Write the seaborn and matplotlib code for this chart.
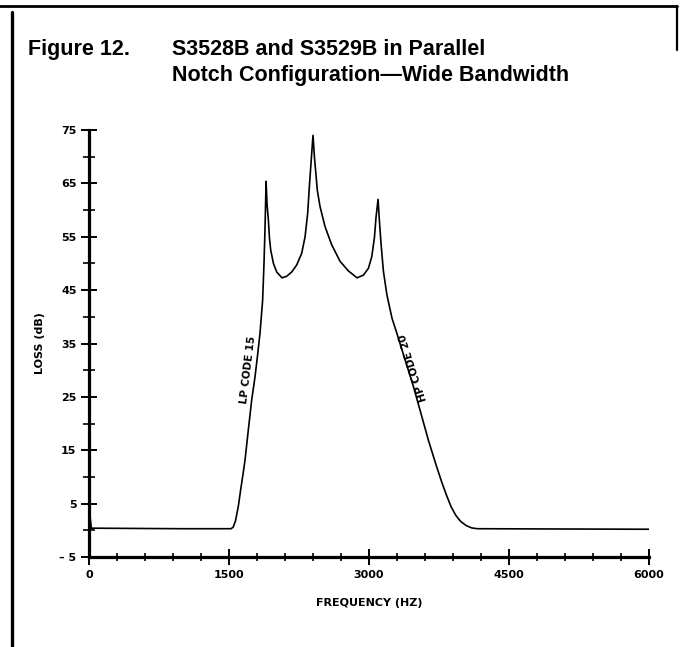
import matplotlib
matplotlib.use("Agg")
import matplotlib.pyplot as plt
from matplotlib.lines import Line2D
from matplotlib.ticker import MultipleLocator, FixedLocator
from matplotlib import font_manager
import seaborn as sns
import pandas as pd

# ---- data ----
freq_hz = [0, 25, 500, 1000, 1500, 1522, 1545, 1570, 1600, 1625, 1650, 1672,
           1707, 1743, 1779, 1804, 1832, 1860, 1875, 1885, 1893, 1897,
           1908, 1922, 1933, 1947, 1976, 2011, 2068, 2118, 2172, 2225, 2279,
           2315, 2343, 2361, 2386, 2400, 2415, 2430, 2447, 2476, 2529, 2600,
           2690, 2779, 2872, 2940, 2994, 3030, 3058, 3075, 3097, 3111, 3129,
           3154, 3190, 3218, 3247, 3297, 3368, 3475, 3547, 3636, 3725, 3780,
           3832, 3880, 3930, 3980, 4040, 4100, 4160, 5000, 6000]
loss_db = [4.5, 0.4, 0.35, 0.3, 0.3, 0.3, 0.6, 1.8, 4.5, 7.6, 10.5, 13.2,
           18.8, 24.4, 28.8, 32.5, 36.9, 43.0, 50.0, 56.0, 62.0, 65.4,
           61.0, 58.1, 54.9, 52.5, 50.0, 48.4, 47.3, 47.6, 48.4, 49.7, 51.9,
           55.0, 59.4, 64.4, 70.6, 74.0, 70.0, 67.0, 63.6, 60.6, 56.9, 53.5,
           50.4, 48.6, 47.3, 47.8, 49.1, 51.3, 54.8, 58.6, 62.0, 58.1, 53.7,
           48.6, 44.3, 42.0, 39.7, 37.0, 33.0, 27.0, 22.5, 16.9, 11.9, 9.0,
           6.5, 4.4, 2.8, 1.7, 0.9, 0.45, 0.3, 0.25, 0.2]

x_major_ticks = [0, 1500, 3000, 4500, 6000]
x_tick_labels = ["0", "1500", "3000", "4500", "6000"]
y_major_ticks = [-5, 5, 15, 25, 35, 45, 55, 65, 75]
y_tick_labels = ["\u2013 5", "5", "15", "25", "35", "45", "55", "65", "75"]

title_prefix = "Figure 12."
title_line1 = "S3528B and S3529B in Parallel"
title_line2 = "Notch Configuration\u2014Wide Bandwidth"
x_label = "FREQUENCY (HZ)"
y_label = "LOSS (dB)"
curve_labels = ["LP CODE 15", "HP CODE 20"]

df = pd.DataFrame({"freq": freq_hz, "loss": loss_db})

sns.set_style("white")
plt.rcParams.update({"text.color": "black", "axes.labelcolor": "black",
                     "xtick.color": "black", "ytick.color": "black"})
names = {f.name for f in font_manager.fontManager.ttflist}
narrow = ["Liberation Sans Narrow", "DejaVu Sans"] if "Liberation Sans Narrow" in names else ["DejaVu Sans"]
title_font = ["Liberation Sans", "DejaVu Sans"]

W, H = 680, 647
fig = plt.figure(figsize=(W / 100, H / 100), dpi=100)
fig.patch.set_facecolor("white")

ax = fig.add_axes([89 / W, 1 - 557 / H, 560 / W, 427 / H])
sns.lineplot(data=df, x="freq", y="loss", ax=ax, color="black", linewidth=1.2,
             sort=False, estimator=None)

ax.set_xlim(0, 6000)
ax.set_ylim(-5, 75)
ax.set_facecolor("white")

for s in ["top", "right"]:
    ax.spines[s].set_visible(False)
for s in ["left", "bottom"]:
    ax.spines[s].set_linewidth(2.3)
    ax.spines[s].set_color("black")

ax.xaxis.set_major_locator(FixedLocator(x_major_ticks))
ax.set_xticklabels(x_tick_labels)
ax.xaxis.set_minor_locator(MultipleLocator(300))
ax.yaxis.set_major_locator(FixedLocator(y_major_ticks))
ax.set_yticklabels(y_tick_labels)
ax.yaxis.set_minor_locator(FixedLocator([0, 10, 20, 30, 40, 50, 60, 70]))

ax.tick_params(axis="both", which="both", direction="inout", color="black",
               bottom=True, left=True)
ax.tick_params(axis="y", which="major", length=12, width=1.4, pad=3)
ax.tick_params(axis="y", which="minor", length=8, width=1.2)
ax.tick_params(axis="x", which="major", length=11, width=1.4, pad=4)
ax.tick_params(axis="x", which="minor", length=6, width=1.2)

for lab in ax.get_xticklabels() + ax.get_yticklabels():
    lab.set_fontfamily(narrow)
    lab.set_fontweight("bold")
    lab.set_fontsize(8)
    lab.set_color("black")

ax.set_xlabel(x_label, fontfamily=narrow, fontweight="bold", fontsize=8, color="black")
ax.set_ylabel(y_label, fontfamily=narrow, fontweight="bold", fontsize=8, color="black")
ax.xaxis.set_label_coords(0.5, -(598 - 557) / 427)
ax.yaxis.set_label_coords(-(89 - 45) / 560, 0.5)

ax.text(1704, 30, curve_labels[0], rotation=83, ha="center", va="center",
        fontfamily=narrow, fontweight="bold", fontsize=7.5, color="black",
        rotation_mode="anchor")
ax.text(3470, 30.5, curve_labels[1], rotation=108, ha="center", va="center",
        fontfamily=narrow, fontweight="bold", fontsize=7.5, color="black",
        rotation_mode="anchor")

# title
tkw = dict(fontfamily=title_font, fontweight="bold", fontsize=15.5,
           ha="left", va="baseline", color="black")
fig.text(28 / W, 1 - 55 / H, title_prefix, **tkw)
fig.text(172 / W, 1 - 55 / H, title_line1, **tkw)
fig.text(172 / W, 1 - 81 / H, title_line2, **tkw)

# scanned page frame
fig.add_artist(Line2D([12 / W, 12 / W], [1 - 12 / H, 0], transform=fig.transFigure,
                      color="black", linewidth=2.4))
fig.add_artist(Line2D([0, 677 / W], [1 - 6 / H, 1 - 6 / H], transform=fig.transFigure,
                      color="black", linewidth=2.0))
fig.add_artist(Line2D([677 / W, 677 / W], [1 - 6 / H, 1 - 50 / H], transform=fig.transFigure,
                      color="black", linewidth=1.6))

fig.savefig("out.png", dpi=100, facecolor="white")
